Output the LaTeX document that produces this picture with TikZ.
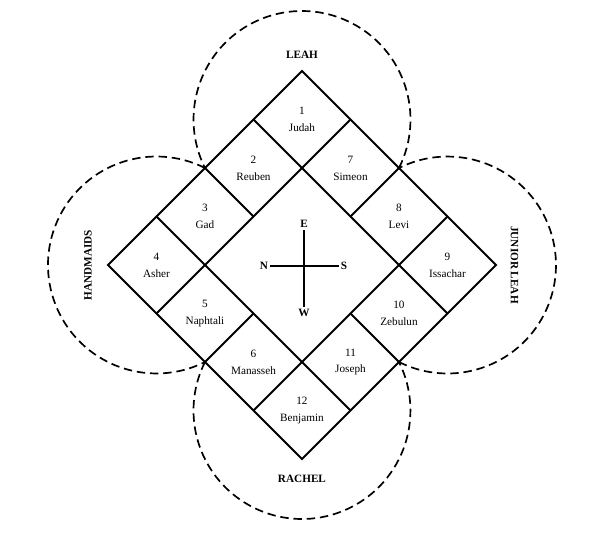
\documentclass[tikz,border=0pt]{standalone}
\usepackage{fontspec}
\setmainfont{Liberation Serif}
\newcommand{\campr}{1.5811}
\newcommand{\textsz}{\fontsize{9.3}{14}\selectfont}

\begin{document}
\begin{tikzpicture}[x=2cm,y=2cm]
    %\draw[help lines] (-4,-4) grid (4,4);
    \tikzset{
        wall/.style = {line width=1.6pt, line join=miter},
        camp/.style = {line width=1.4pt, dash pattern=on 7pt off 4pt},
        tribe/.style = {align=center, font=\textsz, inner sep=1pt},
        host/.style = {font=\textsz\bfseries, inner sep=1pt},
        point/.style = {font=\textsz\bfseries, inner sep=1.5pt}
    }
    \useasboundingbox (-4.402,-3.936) rectangle (4.213,3.863);
    \begin{scope}[rotate=45]
        \draw[wall] (-2,-2) rectangle (2,2);
        \draw[wall] (-1,-2) -- (-1,2) (1,-2) -- (1,2) (-2,-1) -- (2,-1) (-2,1) -- (2,1);
        \draw[wall] (0,-2) -- (0,-1) (0,1) -- (0,2) (-2,0) -- (-1,0) (1,0) -- (2,0);
        \foreach \r in {0,90,180,270}
            \draw[camp, rotate=\r] (2,0) arc[start angle=-71.57, end angle=161.57, radius=\campr];
        \node[tribe] (judah)    at (1.5,1.5)   {1\\Judah};
        \node[tribe] (reuben)   at (0.5,1.5)   {2\\Reuben};
        \node[tribe] (gad)      at (-0.5,1.5)  {3\\Gad};
        \node[tribe] (asher)    at (-1.5,1.5)  {4\\Asher};
        \node[tribe] (naphtali) at (-1.5,0.5)  {5\\Naphtali};
        \node[tribe] (manasseh) at (-1.5,-0.5) {6\\Manasseh};
        \node[tribe] (simeon)   at (1.5,0.5)   {7\\Simeon};
        \node[tribe] (levi)     at (1.5,-0.5)  {8\\Levi};
        \node[tribe] (issachar) at (1.5,-1.5)  {9\\Issachar};
        \node[tribe] (zebulun)  at (0.5,-1.5)  {10\\Zebulun};
        \node[tribe] (joseph)   at (-0.5,-1.5) {11\\Joseph};
        \node[tribe] (benjamin) at (-1.5,-1.5) {12\\Benjamin};
    \end{scope}
    \node[host] (leah)      at (0,3.06)   {LEAH};
    \node[host] (rachel)    at (0,-3.12)  {RACHEL};
    \node[host, rotate=90]  (handmaids) at (-3.12,0) {HANDMAIDS};
    \node[host, rotate=-90] (junior)    at (3.10,0)  {JUNIOR LEAH};
    \node[point] (N) at (-0.554,-0.015) {N};
    \node[point] (S) at (0.612,-0.015)  {S};
    \node[point] (E) at (0.03,0.598)    {E};
    \node[point] (W) at (0.03,-0.70)    {W};
    \draw[wall] (N) -- (S);
    \draw[wall] (E) -- (W);
\end{tikzpicture}
\end{document}
